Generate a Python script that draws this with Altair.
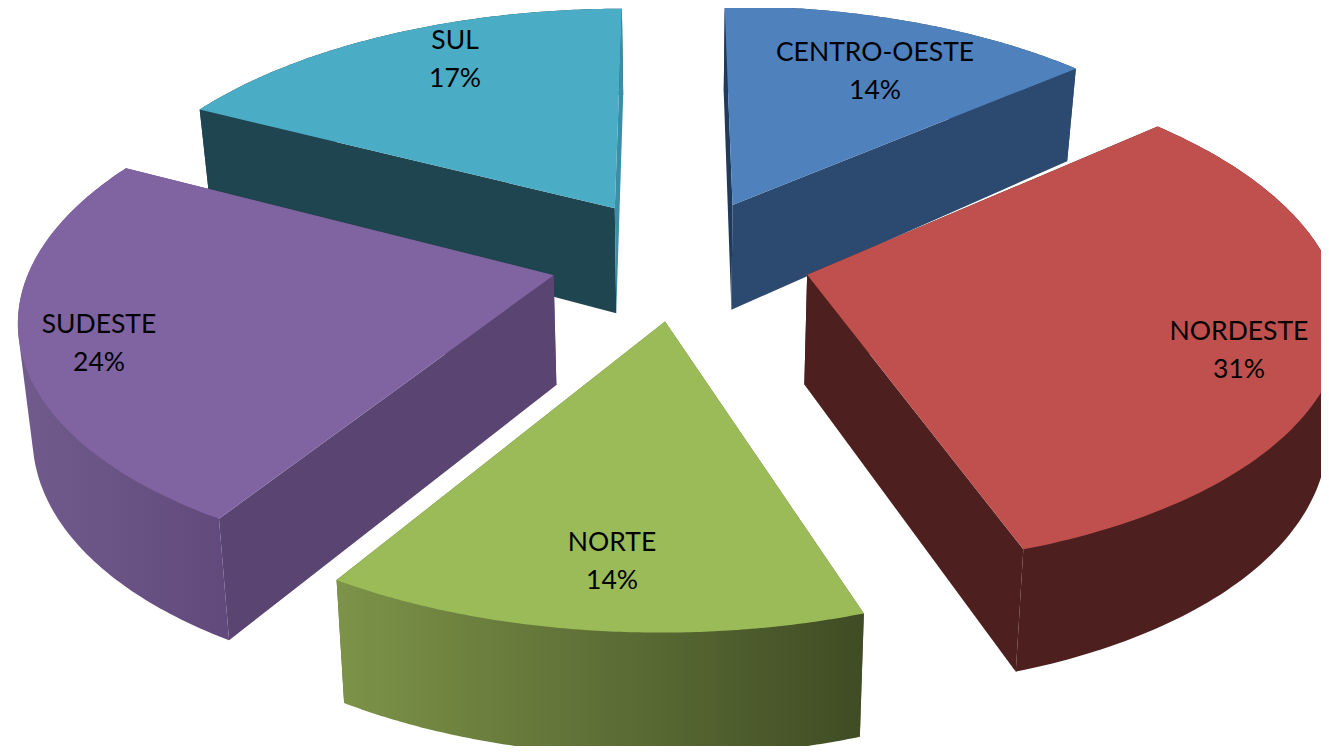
import numpy as np
import altair as alt

# ---- chart data ----
regions = ["CENTRO-OESTE", "NORDESTE", "NORTE", "SUDESTE", "SUL"]
shares = [13.7, 31.2, 13.9, 23.9, 17.3]
top_colors = ["#4f81bd", "#c0504d", "#9bbb59", "#8064a2", "#4bacc6"]

# ---- appearance of the sides, by region ----
RIM = {
    "CENTRO-OESTE": ["#2c4a6f", "#2c4a6f"],
    "NORDESTE": ["#4d1f1f", "#4d1f1f"],
    "NORTE": ["#7d9348", "#3f4c24"],
    "SUDESTE": ["#715b8d", "#614a7b"],
    "SUL": ["#1f4650", "#1f4650"],
}
WALL_START = {"CENTRO-OESTE": "#1f3a5a", "NORDESTE": "#4d1f1f", "NORTE": "#5a6b35",
              "SUDESTE": "#5a4472", "SUL": "#1f4650"}
WALL_END = {"CENTRO-OESTE": "#2c4a6f", "NORDESTE": "#4d1f1f", "NORTE": "#5a6b35",
            "SUDESTE": "#5a4472", "SUL": "#3a8ea6"}
DRAW_ORDER = ["SUL", "CENTRO-OESTE", "SUDESTE", "NORDESTE", "NORTE"]

# ---- 3-D view of the pie ----
CX, CY, KX, KY, PERSP, SKEW, START = 680.34, 258.6, 520.68, 243.48, 6.67, 1.32, -0.0053
EXPLODE = 0.25
LABEL_AT = {"CENTRO-OESTE": (875, 53), "NORDESTE": (1239, 332), "NORTE": (612, 543),
            "SUDESTE": (99, 325), "SUL": (455, 41)}


def view(x, y):
    w = 1 + y / PERSP
    return CX + (KX * x + SKEW * y) / w, CY - KY * y / w


def base(sx, sy):
    return CX + 0.978 * (sx - CX), (1.119 * sy + 85.3) / (1 + 7.7e-5 * sy)


def poly(xs, ys):
    pts = [[round(float(a), 2), round(float(b), 2)] for a, b in zip(xs, ys)]
    pts.append(pts[0])
    return {"type": "Feature", "properties": {},
            "geometry": {"type": "Polygon", "coordinates": [pts]}}


def hull(xs, ys):
    """Outline of the extruded rim, silhouette edges included."""
    pts = sorted(set(zip(map(float, xs), map(float, ys))))

    def half(seq):
        out = []
        for p in seq:
            while len(out) > 1 and ((out[-1][0] - out[-2][0]) * (p[1] - out[-2][1])
                                    - (out[-1][1] - out[-2][1]) * (p[0] - out[-2][0])) <= 0:
                out.pop()
            out.append(p)
        return out[:-1]

    ring = half(pts) + half(pts[::-1])
    return [p[0] for p in ring], [p[1] for p in ring]


PROJ = dict(type="identity", scale=1, translate=[-8, -8])


def shape(feature, fill):
    return alt.Chart(alt.Data(values=[feature])).mark_geoshape(fill=fill, strokeWidth=0).project(**PROJ)


edges = np.cumsum([0] + shares) / sum(shares) * 2 * np.pi + START
layers = []
for name in DRAW_ORDER:
    i = regions.index(name)
    a0, a1 = edges[i], edges[i + 1]
    mid = (a0 + a1) / 2
    ox, oy = EXPLODE * np.sin(mid), EXPLODE * np.cos(mid)
    ang = np.linspace(a0, a1, 120)
    rx, ry = view(ox + np.sin(ang), oy + np.cos(ang))
    ax, ay = view(ox, oy)
    bx, by = base(rx, ry)
    bax, bay = base(ax, ay)
    rim = RIM[name]
    fill = alt.Gradient(gradient="linear", x1=0, x2=1, y1=0, y2=0,
                        stops=[alt.GradientStop(color=rim[0], offset=0),
                               alt.GradientStop(color=rim[1], offset=1)])
    walls = [shape(poly([ax, rx[0], bx[0], bax], [ay, ry[0], by[0], bay]), WALL_START[name]),
             shape(poly([ax, rx[-1], bx[-1], bax], [ay, ry[-1], by[-1], bay]), WALL_END[name])]
    # back slices: the rim lies behind the walls; front slices: the rim is in front
    if np.cos(mid) > 0:
        layers += [shape(poly(np.r_[rx, bx[::-1]], np.r_[ry, by[::-1]]), fill)] + walls
    else:
        layers += walls + [shape(poly(*hull(np.r_[rx, bx], np.r_[ry, by])), fill)]
    layers.append(shape(poly(np.r_[ax, rx], np.r_[ay, ry]), top_colors[i]))

labels = [{"t": f"{r}\n{round(s)}%", "lon": LABEL_AT[r][0], "lat": LABEL_AT[r][1]}
          for r, s in zip(regions, shares)]
text = alt.Chart(alt.Data(values=labels)).mark_text(
    font="Lato", fontSize=26.5, color="#000000", align="center", baseline="middle",
    lineBreak="\n", lineHeight=38,
).encode(longitude="lon:Q", latitude="lat:Q", text="t:N").project(**PROJ)

chart = alt.layer(*layers, text).properties(
    width=1313, height=738, padding=0, background="#ffffff"
).configure_view(stroke=None)

chart.save("out.html", embed_options={"renderer": "svg", "actions": False})
